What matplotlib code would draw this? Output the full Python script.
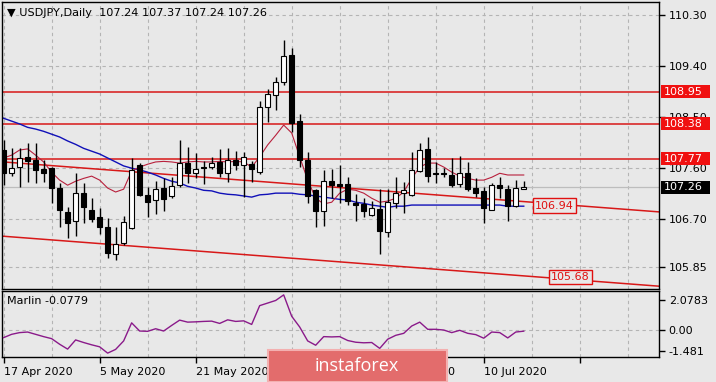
"""
USDJPY daily candles with levels, channel, moving averages and Marlin oscillator
"""

import numpy as np
import matplotlib.pyplot as plt
from matplotlib.patches import Rectangle
from matplotlib.transforms import blended_transform_factory

W, H = 716, 382
BG = "#e8e8e8"

# daily bars, 17 Apr 2020 .. 17 Jul 2020
opens = [107.92, 107.51, 107.62, 107.80, 107.74, 107.58, 107.60, 107.25, 106.83, 106.67,
         107.16, 106.86, 106.74, 106.56, 106.08, 106.28, 106.54, 107.65, 107.13, 107.04,
         107.25, 107.11, 107.30, 107.69, 107.51, 107.62, 107.62, 107.71, 107.51, 107.74,
         107.65, 107.67, 107.53, 108.68, 108.89, 109.12, 109.59, 108.43, 107.74, 107.21,
         106.84, 107.37, 107.32, 107.32, 106.98, 106.97, 106.77, 106.88, 106.47, 106.98,
         107.16, 107.13, 107.55, 107.94, 107.51, 107.51, 107.48, 107.32, 107.51, 107.25,
         107.20, 106.86, 107.30, 107.23, 106.93, 107.24]
highs = [108.10, 107.95, 107.95, 108.04, 108.04, 107.74, 107.62, 107.34, 106.91, 107.51,
         107.34, 107.07, 106.90, 106.72, 106.56, 106.75, 107.78, 107.69, 107.27, 107.37,
         107.42, 107.44, 108.10, 107.97, 107.87, 107.72, 107.80, 107.94, 107.95, 107.90,
         107.88, 107.72, 108.78, 109.00, 109.21, 109.86, 109.72, 108.55, 107.88, 107.23,
         107.57, 107.58, 107.65, 107.44, 107.14, 107.07, 107.02, 107.23, 107.23, 107.44,
         107.35, 107.88, 108.04, 108.15, 107.71, 107.60, 107.78, 107.81, 107.71, 107.42,
         107.27, 107.34, 107.44, 107.30, 107.39, 107.37]
lows = [107.30, 107.46, 107.27, 107.35, 107.34, 107.35, 106.98, 106.56, 106.37, 106.40,
        106.63, 106.65, 106.44, 106.01, 105.98, 106.24, 106.53, 107.11, 106.74, 106.79,
        106.84, 107.07, 107.27, 107.34, 107.42, 107.32, 107.58, 107.44, 107.35, 107.57,
        107.09, 107.35, 107.50, 108.41, 108.62, 109.07, 108.24, 107.62, 106.98, 106.56,
        106.58, 107.07, 106.98, 106.95, 106.67, 106.74, 106.75, 106.08, 106.38, 106.90,
        106.81, 107.11, 107.53, 107.35, 107.34, 107.44, 107.27, 107.27, 107.20, 107.09,
        106.63, 106.86, 107.07, 106.67, 106.91, 107.24]
closes = [107.51, 107.60, 107.78, 107.72, 107.57, 107.51, 107.25, 106.86, 106.63, 107.16,
          106.91, 106.70, 106.56, 106.10, 106.26, 106.65, 107.57, 107.13, 107.00, 107.23,
          107.05, 107.28, 107.69, 107.51, 107.58, 107.60, 107.69, 107.51, 107.74, 107.65,
          107.80, 107.58, 108.68, 108.91, 109.12, 109.58, 108.40, 107.74, 107.11, 106.84,
          107.37, 107.30, 107.28, 107.02, 106.95, 106.84, 106.90, 106.49, 107.00, 107.16,
          107.21, 107.57, 107.92, 107.46, 107.50, 107.50, 107.30, 107.51, 107.23, 107.16,
          106.90, 107.30, 107.25, 106.93, 107.25, 107.26]

ma_blue = [108.48, 108.43, 108.38, 108.32, 108.29, 108.25, 108.20, 108.15, 108.08, 108.02,
           107.95, 107.90, 107.85, 107.78, 107.71, 107.64, 107.60, 107.57, 107.53, 107.48,
           107.42, 107.37, 107.34, 107.28, 107.25, 107.21, 107.20, 107.16, 107.14, 107.13,
           107.11, 107.09, 107.13, 107.14, 107.16, 107.16, 107.16, 107.14, 107.13, 107.11,
           107.09, 107.07, 107.05, 107.04, 107.00, 106.98, 106.95, 106.93, 106.91, 106.93,
           106.93, 106.95, 106.95, 106.95, 106.95, 106.95, 106.95, 106.95, 106.95, 106.95,
           106.95, 106.95, 106.95, 106.93, 106.93, 106.93]
ma_red = [107.78, 107.83, 107.92, 107.94, 107.83, 107.71, 107.53, 107.39, 107.30, 107.37,
          107.42, 107.46, 107.39, 107.25, 107.18, 107.23, 107.55, 107.62, 107.67, 107.71,
          107.72, 107.71, 107.69, 107.71, 107.72, 107.71, 107.71, 107.72, 107.71, 107.72,
          107.71, 107.62, 107.80, 108.01, 108.18, 108.36, 108.22, 107.80, 107.39, 107.07,
          106.97, 107.00, 107.16, 107.23, 107.21, 107.16, 107.07, 107.00, 107.02, 107.07,
          107.18, 107.42, 107.62, 107.69, 107.69, 107.62, 107.53, 107.46, 107.42, 107.39,
          107.39, 107.44, 107.51, 107.48, 107.48, 107.48]
marlin = [-0.53, -0.30, -0.18, -0.14, -0.30, -0.46, -0.60, -0.99, -1.33, -0.69,
          -0.87, -1.03, -1.17, -1.61, -1.35, -0.76, 0.50, -0.07, -0.09, 0.09,
          -0.07, 0.32, 0.69, 0.55, 0.57, 0.60, 0.62, 0.46, 0.71, 0.60,
          0.64, 0.39, 1.70, 1.88, 2.06, 2.45, 0.96, 0.21, -0.76, -1.06,
          -0.46, -0.48, -0.46, -0.73, -0.85, -0.89, -0.87, -1.28, -0.64, -0.37,
          -0.23, 0.28, 0.55, 0.05, 0.05, 0.00, -0.18, -0.02, -0.23, -0.32,
          -0.57, -0.14, -0.18, -0.55, -0.14, -0.08]

levels = [108.95, 108.38, 107.77]
last_price = 107.26
channel_top = [107.71, 106.85]   # price at bar 0 and bar 80
channel_bot = [106.40, 105.54]
channel_labels = ["106.94", "105.68"]
channel_label_pos = [(68.8, 106.94), (70.8, 105.68)]

price_ticks = [110.30, 109.40, 108.50, 107.60, 106.70, 105.85]
marlin_ticks = [2.0783, 0.00, -1.481]
marlin_tick_labels = ["2.0783", "0.00", "-1.481"]
date_ticks = [0, 12, 24, 36, 48, 60, 72]
# 8 Jun label sits fully under the watermark, so it is left blank
date_labels = ["17 Apr 2020", "5 May 2020", "21 May 2020", "",
               "24 Jun 2020", "10 Jul 2020", ""]

LINE_RED = "#d81818"
GRID = "#b4b4b4"

plt.rcParams["font.family"] = "DejaVu Sans"
fig = plt.figure(figsize=(W / 100, H / 100), dpi=100, facecolor=BG)

ax = fig.add_axes([2 / W, 1 - 289 / H, 657 / W, 287 / H], facecolor=BG)
ax2 = fig.add_axes([2 / W, 1 - 357 / H, 657 / W, 66 / H], facecolor=BG)

xmin, xmax = -0.2, 81.9
for a in (ax, ax2):
    a.set_xlim(xmin, xmax)
    for s in a.spines.values():
        s.set_color("black")
        s.set_linewidth(1)
    for g in np.arange(0, 84, 6):
        a.axvline(g, color=GRID, lw=0.8, ls=(0, (3, 3)), zorder=0)

ax.set_ylim(105.47, 110.53)
ax2.set_ylim(-1.88, 2.72)

# price grid + axis
for p in price_ticks:
    ax.axhline(p, color=GRID, lw=0.8, ls=(0, (3, 3)), zorder=0)
ax.yaxis.tick_right()
ax.set_yticks(price_ticks)
ax.set_yticklabels([f"{p:.2f}" for p in price_ticks])
ax.tick_params(axis="y", length=4, width=1, pad=3, labelsize=8, colors="black")
ax.set_xticks([])

# levels, channel, moving averages
for lv in levels:
    ax.axhline(lv, color=LINE_RED, lw=1.1, zorder=2)
ax.axhline(last_price, color="#bdbdbd", lw=0.9, zorder=1)

xs = np.array([-1, 84])
for ch in (channel_top, channel_bot):
    slope = (ch[1] - ch[0]) / 80
    ax.plot(xs, ch[0] + slope * xs, color=LINE_RED, lw=1.1, zorder=2)

idx = np.arange(len(opens))
ax.plot(idx, ma_blue, color="#1010b8", lw=1.0, zorder=2)
ax.plot(idx, ma_red, color="#b8203c", lw=0.8, zorder=2)

# candles
o, h, l, c = map(np.array, (opens, highs, lows, closes))
up = c >= o
ax.vlines(idx, l, h, color="black", lw=1, zorder=3)
body_lo = np.minimum(o, c)
body_h = np.maximum(np.abs(c - o), 0.012)
ax.bar(idx, body_h, bottom=body_lo, width=0.62,
       color=np.where(up, "white", "black"), edgecolor="black", linewidth=0.8, zorder=4)

# channel labels
for txt, (bx, by) in zip(channel_labels, channel_label_pos):
    ax.text(bx, by, txt, color="#e01010", fontsize=8, ha="center", va="center", zorder=6,
            bbox=dict(boxstyle="square,pad=0.2", fc=BG, ec="#e01010", lw=1))

# right-hand price boxes
ytr = blended_transform_factory(ax.transAxes, ax.transData)
unit_per_px = (110.53 - 105.47) / 287
box_w = 49 / 657
box_h = 13 * unit_per_px
for lv, fc in [(l_, "#f01010") for l_ in levels] + [(last_price, "black")]:
    ax.add_patch(Rectangle((1 + 2 / 657, lv - box_h / 2), box_w, box_h, transform=ytr,
                           facecolor=fc, edgecolor="none", clip_on=False, zorder=6))
    ax.text(1 + 5 / 657, lv, f"{lv:.2f}", transform=ytr, color="white", fontsize=8,
            ha="left", va="center", zorder=7, clip_on=False)

ax.text(5 / 657, 1 - 11 / 287, "\u25bc USDJPY,Daily  107.24 107.37 107.24 107.26",
        transform=ax.transAxes, fontsize=8.1, va="center", ha="left")

# Marlin panel
ax2.axhline(0, color=GRID, lw=0.8, ls=(0, (3, 3)), zorder=0)
ax2.plot(idx, marlin, color="#8a1a8a", lw=1.0, zorder=3)
ax2.yaxis.tick_right()
ax2.set_yticks(marlin_ticks)
ax2.set_yticklabels(marlin_tick_labels)
ax2.tick_params(axis="y", length=4, width=1, pad=3, labelsize=8)
ax2.set_xticks(date_ticks)
ax2.set_xticklabels(date_labels)
ax2.tick_params(axis="x", length=4, width=1, pad=3, labelsize=8)
for lbl in ax2.get_xticklabels():
    lbl.set_ha("left")
ax2.text(5 / 657, 1 - 10 / 66, "Marlin -0.0779", transform=ax2.transAxes,
         fontsize=8, va="center", ha="left")

# watermark
fig.patches.append(Rectangle((268 / W, 0), 179 / W, 32 / H, transform=fig.transFigure,
                             facecolor="#e36c6c", edgecolor="#f3b0b0", lw=1.5, zorder=10))
fig.text(357 / W, 16 / H, "instaforex", color="white", fontsize=13, ha="center",
         va="center", zorder=11, family="Open Sans")

fig.savefig("out.png", dpi=100, facecolor=BG)
